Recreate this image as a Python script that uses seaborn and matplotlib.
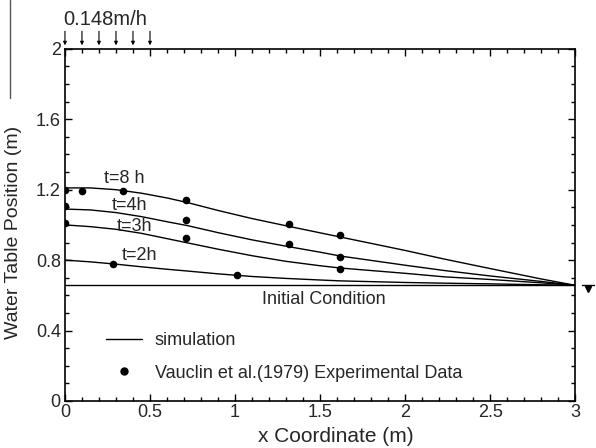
import numpy as np
import pandas as pd
import matplotlib
matplotlib.use("Agg")
import matplotlib.pyplot as plt
from matplotlib.lines import Line2D
from matplotlib.ticker import MultipleLocator, FuncFormatter
import seaborn as sns

# ---------------- data ----------------
x_sim = [0.0, 0.15, 0.3, 0.45, 0.6, 0.72, 0.9, 1.1, 1.3, 1.5, 1.62, 2.0, 2.23, 2.5, 2.8, 3.0]
sim_8h = [1.21, 1.21, 1.20, 1.18, 1.153, 1.127, 1.082, 1.036, 0.995, 0.955, 0.931, 0.855, 0.806, 0.752, 0.693, 0.657]
sim_4h = [1.09, 1.085, 1.07, 1.047, 1.018, 0.996, 0.956, 0.915, 0.879, 0.845, 0.823, 0.771, 0.741, 0.71, 0.679, 0.657]
sim_3h = [1.00, 0.99, 0.975, 0.952, 0.922, 0.898, 0.862, 0.825, 0.793, 0.768, 0.755, 0.725, 0.705, 0.69, 0.671, 0.657]
sim_2h = [0.80, 0.79, 0.777, 0.762, 0.748, 0.738, 0.722, 0.707, 0.696, 0.687, 0.682, 0.673, 0.669, 0.665, 0.66, 0.657]
x_init = [0.0, 3.0]
y_init = [0.657, 0.657]

obs_8h_x = [0.0, 0.1, 0.34, 0.71, 1.32, 1.62]
obs_8h_y = [1.20, 1.19, 1.19, 1.14, 1.005, 0.94]
obs_4h_x = [0.0, 0.71, 1.32, 1.62]
obs_4h_y = [1.105, 1.025, 0.89, 0.82]
obs_3h_x = [0.0, 0.71, 1.62]
obs_3h_y = [1.01, 0.925, 0.748]
obs_2h_x = [0.28, 1.01]
obs_2h_y = [0.778, 0.716]

curve_labels = ["t=8 h", "t=4h", "t=3h", "t=2h"]
label_pos_x = [0.35, 0.38, 0.41, 0.44]
label_pos_y = [1.265, 1.108, 0.99, 0.825]

rain_x = [0.0, 0.1, 0.2, 0.3, 0.4, 0.5]
rain_label = "0.148m/h"
x_ticks = [0, 0.5, 1, 1.5, 2, 2.5, 3]
y_ticks = [0, 0.4, 0.8, 1.2, 1.6, 2]

# ---------------- tables ----------------
sim_df = pd.concat([
    pd.DataFrame({"x": x_sim, "y": sim_8h, "t": "8h"}),
    pd.DataFrame({"x": x_sim, "y": sim_4h, "t": "4h"}),
    pd.DataFrame({"x": x_sim, "y": sim_3h, "t": "3h"}),
    pd.DataFrame({"x": x_sim, "y": sim_2h, "t": "2h"}),
    pd.DataFrame({"x": x_init, "y": y_init, "t": "init"}),
], ignore_index=True)
obs_df = pd.concat([
    pd.DataFrame({"x": obs_8h_x, "y": obs_8h_y, "t": "8h"}),
    pd.DataFrame({"x": obs_4h_x, "y": obs_4h_y, "t": "4h"}),
    pd.DataFrame({"x": obs_3h_x, "y": obs_3h_y, "t": "3h"}),
    pd.DataFrame({"x": obs_2h_x, "y": obs_2h_y, "t": "2h"}),
], ignore_index=True)

# ---------------- style ----------------
sns.set_style("ticks")
plt.rcParams["font.family"] = ["Liberation Sans", "DejaVu Sans"]
plt.rcParams["axes.linewidth"] = 1.2

fig = plt.figure(figsize=(5.96, 4.48), dpi=100)
ax = fig.add_axes([0.109, 0.105, 0.856, 0.786])

sns.lineplot(data=sim_df, x="x", y="y", units="t", estimator=None, color="black",
             lw=1.0, ax=ax, legend=False, sort=False)
sns.scatterplot(data=obs_df, x="x", y="y", color="black", s=30, edgecolor="black",
                linewidth=0, ax=ax, legend=False, zorder=5)

ax.set_xlim(0, 3)
ax.set_ylim(0, 2)
ax.set_xticks(x_ticks)
ax.set_yticks(y_ticks)
ax.xaxis.set_minor_locator(MultipleLocator(0.1))
ax.yaxis.set_minor_locator(MultipleLocator(0.1))
fmt = FuncFormatter(lambda v, p: ("%g" % round(v, 2)))
ax.xaxis.set_major_formatter(fmt)
ax.yaxis.set_major_formatter(fmt)
ax.tick_params(which="both", direction="in", top=True, right=True, color="black")
ax.tick_params(which="major", length=5, width=1.0, labelsize=13)
ax.tick_params(which="minor", length=3, width=1.0)
ax.tick_params(axis="x", which="major", pad=2)
ax.tick_params(axis="y", which="major", pad=3)
for s in ax.spines.values():
    s.set_color("black")

ax.set_xlabel("x Coordinate (m)", fontsize=15)
ax.set_ylabel("Water Table Position (m)", fontsize=14)
ax.xaxis.set_label_coords(0.53, -0.075)
ax.yaxis.set_label_coords(-0.085, 0.48)

for lab, lx, ly in zip(curve_labels, label_pos_x, label_pos_y):
    ax.text(lx, ly, lab, fontsize=13, ha="center", va="center")
ax.text(1.52, 0.575, "Initial Condition", fontsize=13, ha="center", va="center")

# rainfall arrows on top
for rx in rain_x:
    ax.annotate("", xy=(rx, 2.02), xytext=(rx, 2.1), xycoords="data",
                annotation_clip=False,
                arrowprops=dict(arrowstyle="-|>", lw=0.8, color="black",
                                mutation_scale=5, shrinkA=0, shrinkB=0))
ax.text(-0.01, 2.165, rain_label, fontsize=14.5, ha="left", va="center", clip_on=False)

# water-table symbol at right
ax.plot([3.04, 3.11], [0.657, 0.657], color="black", lw=1.0, clip_on=False)
ax.plot([3.075], [0.637], marker="v", color="black", ms=4, clip_on=False)

# legend
handles = [Line2D([], [], color="black", lw=1.0),
           Line2D([], [], ls="none", marker="o", color="black", ms=5)]
ax.legend(handles, ["simulation", "Vauclin et al.(1979) Experimental Data"],
          loc="upper left", bbox_to_anchor=(0.24, 0.39), bbox_transform=ax.transData,
          frameon=False, fontsize=13, handlelength=2.0, handletextpad=0.7,
          labelspacing=0.85, borderpad=0, borderaxespad=0)

# scan border artifact at left
fig.add_artist(Line2D([10 / 596, 10 / 596], [1.0, 1 - 98 / 448], color="#555555", lw=1.0))

fig.savefig("out.png", dpi=100)
